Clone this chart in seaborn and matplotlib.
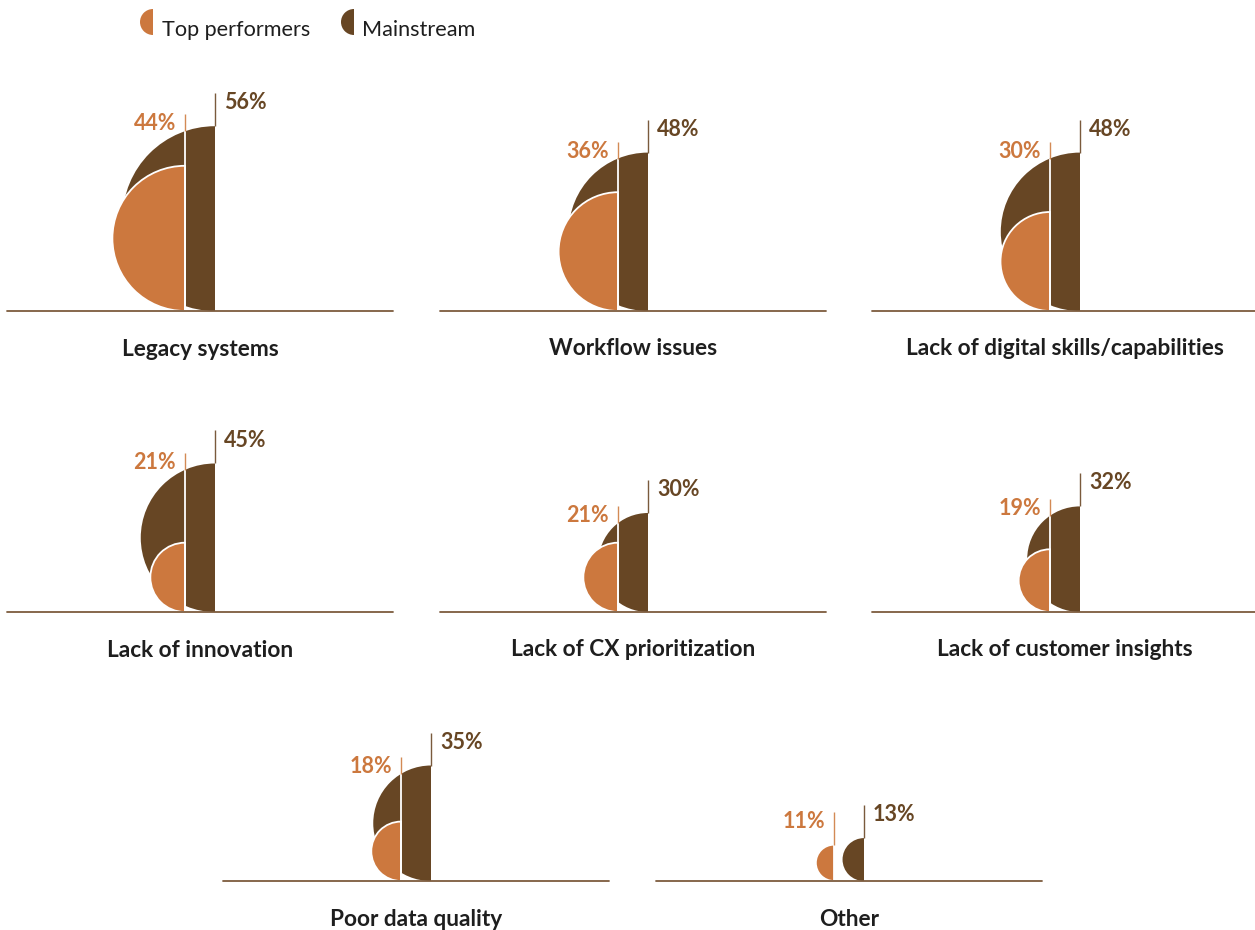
import numpy as np
import matplotlib
matplotlib.use("Agg")
import matplotlib.pyplot as plt
from matplotlib.patches import Wedge
import seaborn as sns

# Barriers to CX maturity: share of respondents citing each barrier (%)
categories = [
    "Legacy systems",
    "Workflow issues",
    "Lack of digital skills/capabilities",
    "Lack of innovation",
    "Lack of CX prioritization",
    "Lack of customer insights",
    "Poor data quality",
    "Other",
]
top_performers = [44, 36, 30, 21, 21, 19, 18, 11]
mainstream = [56, 48, 48, 45, 30, 32, 35, 13]
series_names = ["Top performers", "Mainstream"]

sns.set_theme(style="white")
plt.rcParams["font.family"] = ["Lato", "DejaVu Sans"]

ORANGE = "#CC783E"
BROWN = "#674624"
ORANGE_LINE = "#D38A55"
BROWN_LINE = "#7A5A3C"
BASE_LINE = "#7D5C3E"
TEXT = "#1E1E1E"

W, H = 1255, 930
fig = plt.figure(figsize=(W / 100, H / 100), dpi=100)

PX = 3.3            # pixels per percentage point
panel_w, panel_h = 386, 270
half_gap = 15 / PX  # distance of each half-disc's flat edge from panel centre

# (left edge, baseline) of each small panel, in figure pixels
panel_pos = [(7, 311), (440, 311), (872, 311),
             (7, 612), (440, 612), (872, 612),
             (223, 881), (656, 881)]

for cat, tp, ms, (left, base) in zip(categories, top_performers, mainstream, panel_pos):
    ax = fig.add_axes([left / W, (H - base) / H, panel_w / W, panel_h / H])
    ax.set_xlim(-panel_w / 2 / PX, panel_w / 2 / PX)
    ax.set_ylim(0, panel_h / PX)
    ax.set_aspect("equal", adjustable="box")
    ax.axis("off")

    xo, xm = -half_gap, half_gap
    rm, ro = ms / 2, tp / 2

    # Mainstream: left half-disc whose diameter is the value
    ax.add_patch(Wedge((xm, rm), rm, 90, 270, facecolor=BROWN, edgecolor="none", zorder=2))
    # Top performers: smaller half-disc drawn in front with a white rim
    ax.add_patch(Wedge((xo, ro), ro, 90, 270, facecolor=ORANGE, edgecolor="white",
                       linewidth=1.3, zorder=3))

    dx = xm - xo
    if rm > dx:
        y_dark = rm + np.sqrt(rm ** 2 - dx ** 2)
        ax.plot([xo, xo], [0, y_dark], color="white", lw=1.3, zorder=4,
                solid_capstyle="butt")
        o_base, o_len = max(y_dark, tp), 17 / PX
    else:
        o_base, o_len = tp, 33 / PX

    # leader lines and value labels
    o_top = o_base + o_len
    ax.plot([xo, xo], [o_base, o_top], color=ORANGE_LINE, lw=1.0, zorder=4,
            solid_capstyle="butt")
    m_top = ms + 33 / PX
    ax.plot([xm, xm], [ms, m_top], color=BROWN_LINE, lw=1.0, zorder=4,
            solid_capstyle="butt")

    ax.annotate(f"{tp}%", xy=(xo, o_top), xytext=(-9, 1), textcoords="offset pixels",
                ha="right", va="top", fontsize=15.5, fontweight="bold", color=ORANGE)
    ax.annotate(f"{ms}%", xy=(xm, m_top), xytext=(9, 1), textcoords="offset pixels",
                ha="left", va="top", fontsize=15.5, fontweight="bold", color=BROWN)

    ax.axhline(0, color=BASE_LINE, lw=1.3, zorder=5, clip_on=False)
    ax.annotate(cat, xy=(0, 0), xytext=(0, -38), textcoords="offset pixels",
                ha="center", va="center", fontsize=16.3, fontweight="bold", color=TEXT,
                annotation_clip=False)

# Legend with half-disc markers
lax = fig.add_axes([0, 0, 1, 1], zorder=10)
lax.set_xlim(0, W)
lax.set_ylim(H, 0)
lax.axis("off")
lax.patch.set_alpha(0)
for name, color, xflat, xtext in zip(series_names, [ORANGE, BROWN], [153, 354], [162, 362]):
    lax.add_patch(Wedge((xflat, 22), 13, 90, 270, facecolor=color, edgecolor="none"))
    lax.text(xtext, 36, name, ha="left", va="baseline", fontsize=15.6, color=TEXT)

fig.savefig("out.png", dpi=100)
